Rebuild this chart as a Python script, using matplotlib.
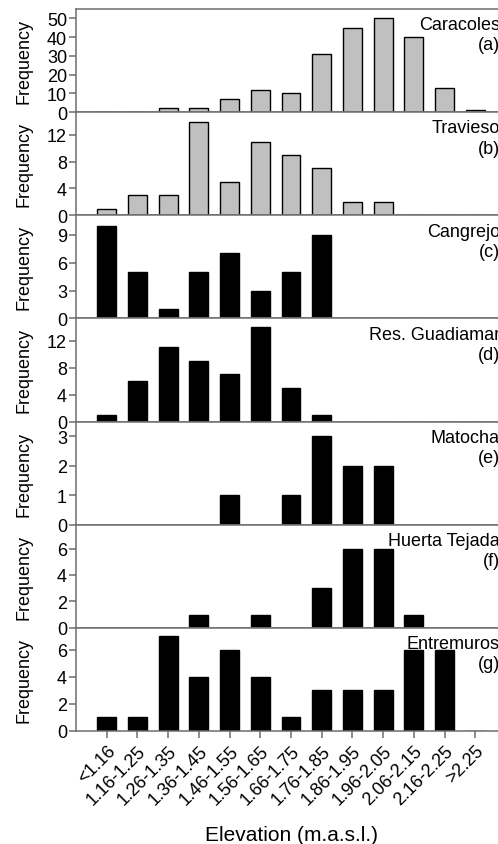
import numpy as np
import matplotlib
matplotlib.use("Agg")
import matplotlib.pyplot as plt

plt.rcParams['font.family'] = ['Liberation Sans', 'DejaVu Sans']

# categorias de elevacion
categories = ['<1.16', '1.16-1.25', '1.26-1.35', '1.36-1.45', '1.46-1.55',
              '1.56-1.65', '1.66-1.75', '1.76-1.85', '1.86-1.95', '1.96-2.05',
              '2.06-2.15', '2.16-2.25', '>2.25']

caracoles = [0, 0, 2, 2, 7, 12, 10, 31, 45, 50, 40, 13, 1]
travieso = [1, 3, 3, 14, 5, 11, 9, 7, 2, 2, 0, 0, 0]
cangrejo = [10, 5, 1, 5, 7, 3, 5, 9, 0, 0, 0, 0, 0]
guadiamar = [1, 6, 11, 9, 7, 14, 5, 1, 0, 0, 0, 0, 0]
matocha = [0, 0, 0, 0, 1, 0, 1, 3, 2, 2, 0, 0, 0]
huerta = [0, 0, 0, 1, 0, 1, 0, 3, 6, 6, 1, 0, 0]
entremuros = [1, 1, 7, 4, 6, 4, 1, 3, 3, 3, 6, 6, 0]

names = ['Caracoles\n(a)', 'Travieso\n(b)', 'Cangrejo\n(c)', 'Res. Guadiamar\n(d)',
         'Matocha\n(e)', 'Huerta Tejada\n(f)', 'Entremuros\n(g)']
series = [caracoles, travieso, cangrejo, guadiamar, matocha, huerta, entremuros]
colors = ['#c0c0c0', '#c0c0c0', 'black', 'black', 'black', 'black', 'black']
ylims = [55, 15.4, 11.1, 15.3, 3.5, 7.8, 7.6]
yticks = [[0, 10, 20, 30, 40, 50], [0, 4, 8, 12], [0, 3, 6, 9], [0, 4, 8, 12],
          [0, 1, 2, 3], [0, 2, 4, 6], [0, 2, 4, 6]]

W, H = 498, 845
fig = plt.figure(figsize=(W / 100, H / 100), dpi=100)

top_px, bot_px = 10, 732
left_px, right_px = 76, 506
ph = (bot_px - top_px) / 7
x = np.arange(len(categories))
spine_col = '#6e6e6e'
fs = 13

for i in range(7):
    y0 = top_px + (i + 1) * ph  # borde inferior del panel en pixeles
    ax = fig.add_axes([left_px / W, 1 - y0 / H, (right_px - left_px) / W, ph / H])
    ax.bar(x, series[i], width=0.61, color=colors[i], edgecolor='black', linewidth=1.0)
    ax.set_xlim(-1, 13)
    ax.set_ylim(0, ylims[i])
    ax.set_yticks(yticks[i])
    ax.tick_params(axis='y', direction='out', length=5, width=1.1, color=spine_col,
                   labelsize=fs, pad=1.5)
    for s in ax.spines.values():
        s.set_color(spine_col)
        s.set_linewidth(1.1)
    ax.set_ylabel('Frequency', fontsize=fs)
    ax.yaxis.set_label_coords((32 - left_px) / (right_px - left_px), 0.5)
    ax.text(0.986, 0.93, names[i], transform=ax.transAxes, ha='right', va='top',
            multialignment='right', fontsize=fs, linespacing=1.25)
    if i < 6:
        ax.set_xticks([])
    else:
        ax.set_xticks(x)
        ax.set_xticklabels(categories, rotation=45, ha='right', rotation_mode='anchor',
                           fontsize=fs)
        ax.tick_params(axis='x', direction='out', length=5, width=1.1, color=spine_col,
                       pad=3)
        ax.set_xlabel('Elevation (m.a.s.l.)', fontsize=15, labelpad=12)

fig.savefig('out.png', dpi=100)
